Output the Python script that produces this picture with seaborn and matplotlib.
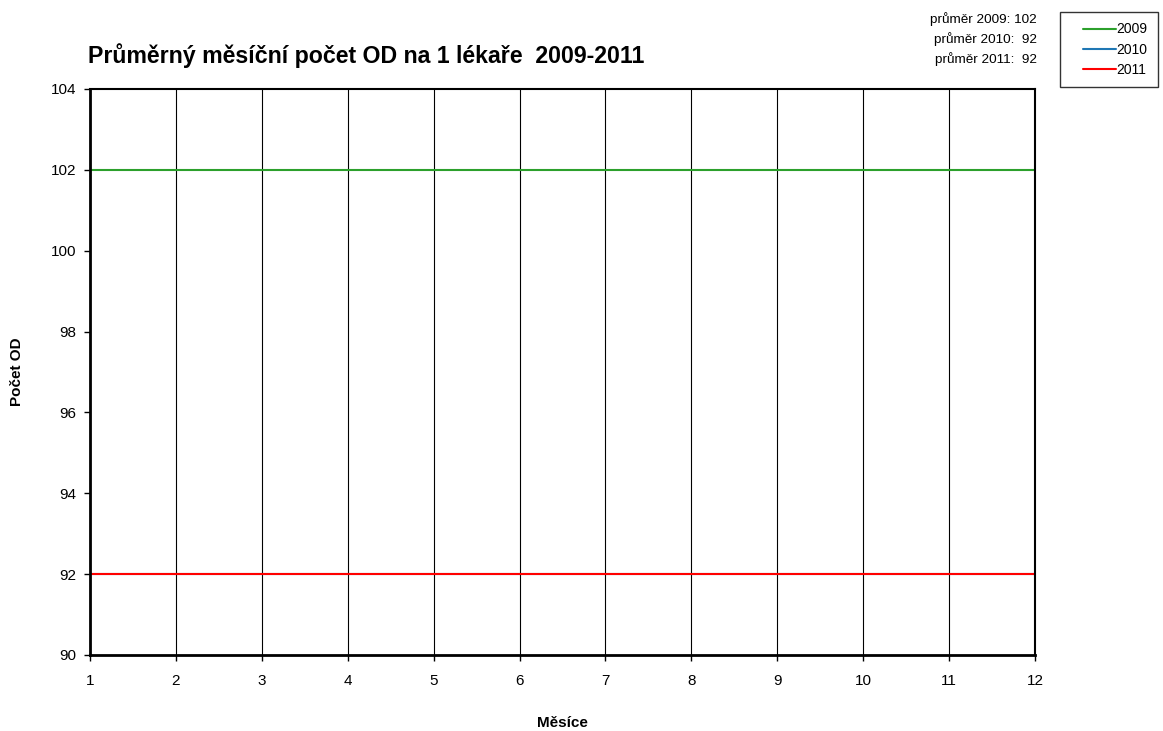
import matplotlib
matplotlib.use("Agg")
import matplotlib.pyplot as plt
from matplotlib.legend_handler import HandlerLine2D
import seaborn as sns
import pandas as pd

months = list(range(1, 13))
series_2009 = [102] * 12
series_2010 = [92] * 12
series_2011 = [92] * 12
years = ["2009", "2010", "2011"]
colors = ["#2ca02c", "#1f77b4", "#ff0000"]
averages = [102, 92, 92]

sns.set_theme(style="white")
plt.rcParams["font.family"] = ["Liberation Sans", "DejaVu Sans"]
plt.rcParams["text.color"] = "black"
plt.rcParams["axes.labelcolor"] = "black"

df = pd.DataFrame({
    "Měsíc": months * 3,
    "Počet": series_2009 + series_2010 + series_2011,
    "Rok": [y for y in years for _ in months],
})

fig = plt.figure(figsize=(11.63, 7.31), dpi=100)
ax = fig.add_axes([90 / 1163, 1 - 655 / 731, (1035 - 90) / 1163, (655 - 89) / 731])

sns.lineplot(data=df, x="Měsíc", y="Počet", hue="Rok", palette=colors,
             linewidth=1.5, ax=ax, legend=False)

ax.set_xlim(1, 12)
ax.set_ylim(90, 104)
ax.set_xticks(months)
ax.set_yticks(range(90, 105, 2))
ax.tick_params(axis="both", direction="out", length=4, width=1, color="black",
               labelsize=11, labelcolor="black", pad=6)
ax.tick_params(axis="x", bottom=True, pad=10)
ax.tick_params(axis="y", left=True)
ax.xaxis.grid(True, color="black", linewidth=0.8)
ax.yaxis.grid(False)
for side in ["left", "bottom"]:
    ax.spines[side].set_color("black")
    ax.spines[side].set_linewidth(2)
for side in ["top", "right"]:
    ax.spines[side].set_color("black")
    ax.spines[side].set_linewidth(1.5)

ax.set_xlabel("Měsíce", fontsize=11, fontweight="bold", labelpad=20)
ax.set_ylabel("Počet OD", fontsize=11, fontweight="bold", labelpad=19)

fig.text(88 / 1163, 1 - 56 / 731, "Průměrný měsíční počet OD na 1 lékaře  2009-2011",
         fontsize=16.7, fontweight="bold", va="center", ha="left")

for i, (y, a) in enumerate(zip(years, averages)):
    fig.text(1037 / 1163, 1 - (19 + 20 * i) / 731, f"průměr {y}: {a:>3}",
             fontsize=9.7, ha="right", va="center")

handles = [plt.Line2D([], [], color=c, linewidth=1.5) for c in colors]
leg = fig.legend(handles, years, loc="upper left", bbox_to_anchor=(1060 / 1163, 1 - 12 / 731),
                 frameon=True, fontsize=10, handlelength=3.3, handletextpad=0.0,
                 borderpad=0.75, labelspacing=0.45, fancybox=False, borderaxespad=0,
                 handler_map={plt.Line2D: HandlerLine2D(xpad=0.9)})
leg.get_frame().set_edgecolor("black")
leg.get_frame().set_linewidth(1)

fig.savefig("out.png", dpi=100)
